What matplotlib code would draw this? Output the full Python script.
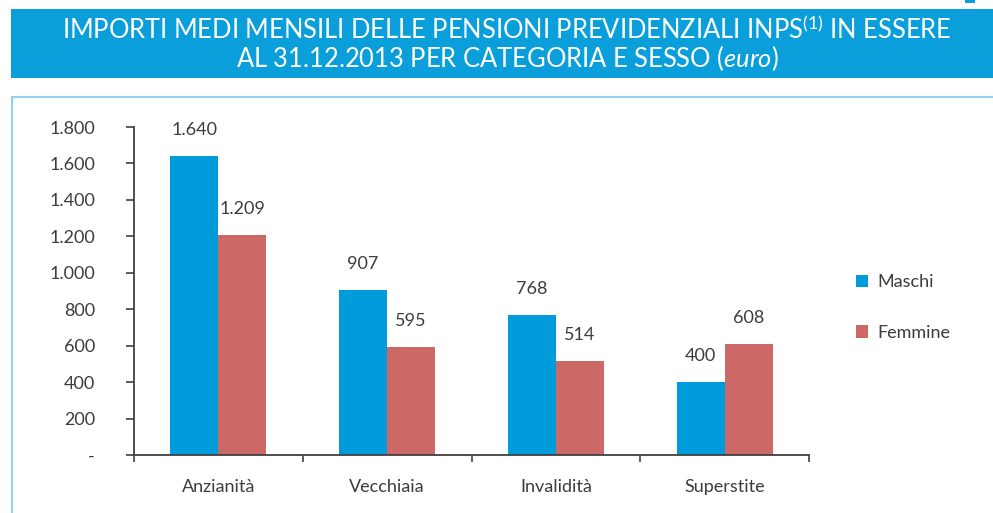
import matplotlib
matplotlib.use("Agg")
import matplotlib.pyplot as plt
from matplotlib.patches import Rectangle
from matplotlib.ticker import FuncFormatter, FixedLocator
import numpy as np

# ---------------------------------------------------------------------------
# Data
# ---------------------------------------------------------------------------
categories = ["Anzianità", "Vecchiaia", "Invalidità", "Superstite"]
maschi = [1640, 907, 768, 400]
femmine = [1209, 595, 514, 608]
series_labels = ["Maschi", "Femmine"]
y_ticks = [0, 200, 400, 600, 800, 1000, 1200, 1400, 1600, 1800]

title_line1 = r"IMPORTI MEDI MENSILI DELLE PENSIONI PREVIDENZIALI INPS$^{\rm (1)}$ IN ESSERE"
title_line2 = r"AL 31.12.2013 PER CATEGORIA E SESSO $\mathit{(euro)}$"

# ---------------------------------------------------------------------------
# Style
# ---------------------------------------------------------------------------
FONT = "Lato"
BLUE = "#009BDB"
RED = "#CC6966"
BAND = "#0A9FDB"
BORDER = "#8FD3F0"
TEXT = "#3C3C3C"

plt.rcParams["font.family"] = [FONT, "DejaVu Sans"]
plt.rcParams["mathtext.fontset"] = "custom"
plt.rcParams["mathtext.rm"] = FONT
plt.rcParams["mathtext.it"] = FONT + ":italic"

W, H = 993, 513
fig = plt.figure(figsize=(W / 100, H / 100), dpi=100)


def fx(px):
    return px / W


def fy(py):
    return 1 - py / H


# title band and framing box
fig.patches.append(Rectangle((fx(11), fy(78)), fx(993 - 11), (78 - 9) / H,
                             transform=fig.transFigure, facecolor=BAND,
                             edgecolor="none", zorder=0))
fig.patches.append(Rectangle((fx(965), fy(3)), fx(10), 3 / H,
                             transform=fig.transFigure, facecolor=BAND,
                             edgecolor="none", zorder=0))
fig.patches.append(Rectangle((fx(11.5), fy(520)), fx(993), (520 - 97) / H,
                             transform=fig.transFigure, facecolor="none",
                             edgecolor=BORDER, linewidth=1.5, zorder=0))

fig.text(fx(507), fy(30), title_line1, color="white", fontsize=18.4,
         ha="center", va="center")
fig.text(fx(507), fy(58), title_line2, color="white", fontsize=18.4,
         ha="center", va="center")

# ---------------------------------------------------------------------------
# Bars
# ---------------------------------------------------------------------------
ax = fig.add_axes([fx(134), fy(455), fx(809 - 134), (455 - 127) / H])
x = np.arange(len(categories))
w = 0.284
b1 = ax.bar(x - w / 2, maschi, w, color=BLUE, label=series_labels[0], zorder=2)
b2 = ax.bar(x + w / 2, femmine, w, color=RED, label=series_labels[1], zorder=2)


def fmt_it(v, pos=None):
    if v == 0:
        return "-"
    return f"{int(v):,}".replace(",", ".")


for bars, vals in ((b1, maschi), (b2, femmine)):
    for rect, v in zip(bars, vals):
        ax.annotate(fmt_it(v), (rect.get_x() + rect.get_width() / 2, v),
                    xytext=(0, 13), textcoords="offset points",
                    ha="center", va="bottom", fontsize=13, color=TEXT)

ax.set_xlim(-0.5, len(categories) - 0.5)
ax.set_ylim(0, 1800)
ax.yaxis.set_major_locator(FixedLocator(y_ticks))
ax.yaxis.set_major_formatter(FuncFormatter(fmt_it))
ax.set_xticks(x)
ax.set_xticklabels(categories)
ax.set_xticks(np.arange(-0.5, len(categories), 1.0), minor=True)

for s in ("top", "right"):
    ax.spines[s].set_visible(False)
for s in ("left", "bottom"):
    ax.spines[s].set_color("#404040")
    ax.spines[s].set_linewidth(1.3)

ax.tick_params(axis="y", direction="out", length=6, width=1.2, color="#404040",
               pad=22, labelsize=13, labelcolor=TEXT)
ax.tick_params(axis="x", which="major", length=0, pad=17, labelsize=13,
               labelcolor=TEXT)
ax.tick_params(axis="x", which="minor", direction="out", length=5, width=1.2,
               color="#404040")

ax.legend(loc="center left", bbox_to_anchor=(1.045, 0.45), frameon=False,
          fontsize=13, labelcolor=TEXT, handlelength=0.7, handleheight=0.7,
          handletextpad=0.5, labelspacing=1.9)

fig.savefig("out.png", dpi=100)
